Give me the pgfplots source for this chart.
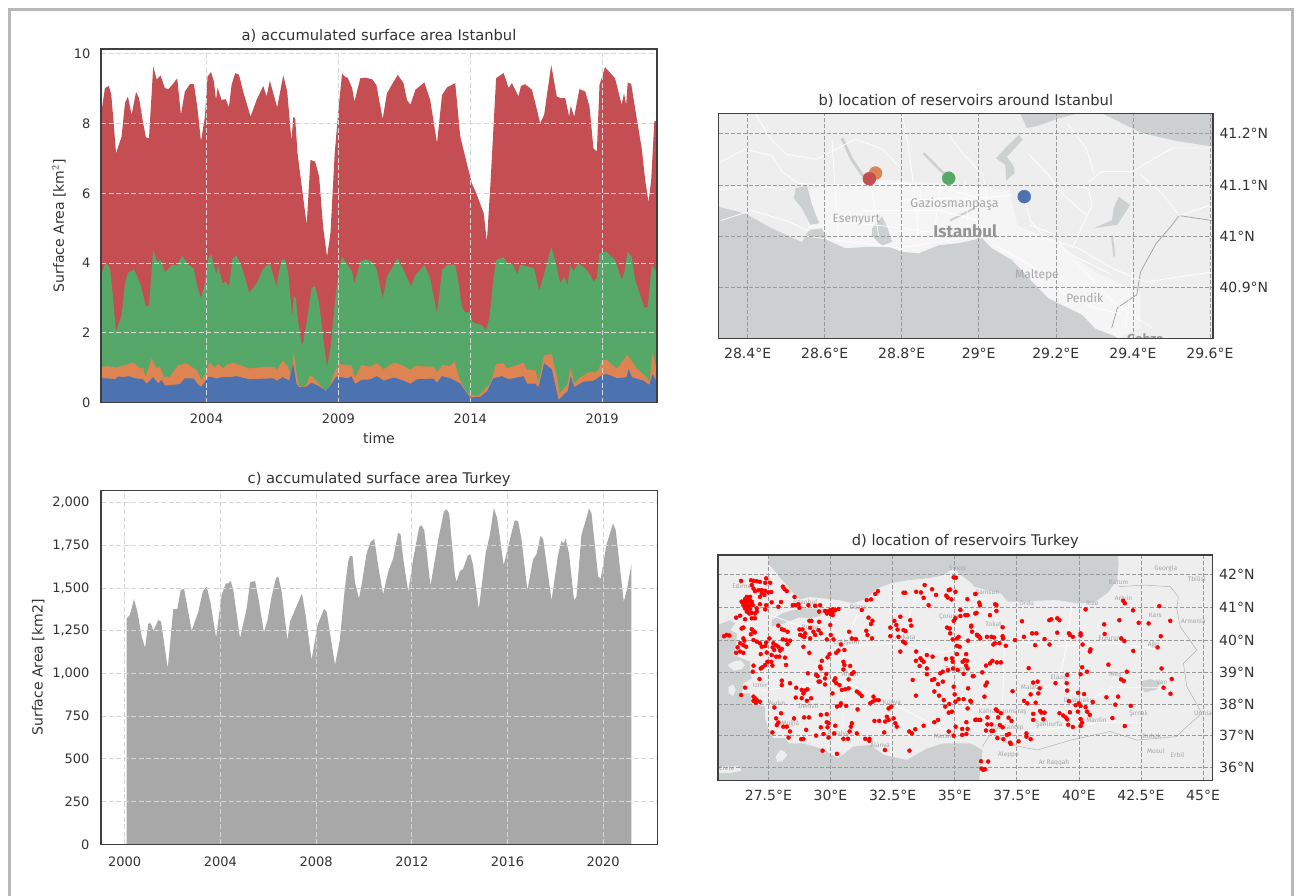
\documentclass[border=0pt]{standalone}
\usepackage{pgfplots}
\pgfplotsset{compat=1.18}
\usepackage{fontspec}
\setmainfont{DejaVu Sans}
\newfontfamily\mapfont{Fira Sans}
\definecolor{cblue}{HTML}{4C72B0}
\definecolor{corange}{HTML}{DD8452}
\definecolor{cgreen}{HTML}{55A868}
\definecolor{cred}{HTML}{C44E52}
\definecolor{txt}{HTML}{333333}
\definecolor{spine}{HTML}{3F3F3F}
\definecolor{sea}{HTML}{CDD0D1}
\definecolor{land}{HTML}{EEEEEE}
\definecolor{lbl}{HTML}{A6A6A6}
\tikzset{mlabel/.style={text=lbl,font=\mapfont\fontsize{#1}{#1}\selectfont,inner sep=0pt}}
\pgfplotsset{
  base/.style={scale only axis,anchor=south west,
    tick style={draw=none},major tick length=0pt,
    axis line style={draw=spine,line width=1.2pt},
    tick label style={font=\fontsize{13}{15}\selectfont,text=txt},
    label style={font=\fontsize{14}{16}\selectfont,text=txt},
    title style={font=\fontsize{14.7}{17}\selectfont,text=txt,yshift=-6pt},
    grid=major,clip=true},
  chart/.style={base,axis on top=true,
    grid style={color=black!16,line width=1.1pt,dash pattern=on 5pt off 2.5pt}},
  mapax/.style={base,axis on top=true,axis background/.style={fill=land},
    yticklabel pos=right,
    tick label style={font=\fontsize{14}{16}\selectfont,text=txt},
    yticklabel style={xshift=3pt},
    grid style={color=black!40,line width=0.6pt,dash pattern=on 4pt off 2pt}},
  overlayax/.style={scale only axis,anchor=south west,hide axis,clip=true},
  seapoly/.style={fill=sea,draw=none},
  road/.style={draw=white,line width=0.8pt,no markers,opacity=0.9},
  border/.style={draw=black!30,line width=0.5pt,no markers}
}
\begin{document}
\begin{tikzpicture}
\useasboundingbox (0,0) rectangle (1295pt,896pt);
\fill[white] (0,0) rectangle (1295pt,896pt);
\draw[color=black!28,line width=3pt] (9.5pt,0pt) -- (9.5pt,886.5pt) -- (1292.5pt,886.5pt) -- (1292.5pt,0pt);
% ---------- a
\begin{axis}[chart,at={(101pt,493.3pt)},width=556pt,height=353.7pt,
  xmin=2000.0,xmax=2021.08,ymin=0,ymax=10.14,
  xtick={2004,2009,2014,2019},xticklabels={2004,2009,2014,2019},
  ytick={0,2,4,6,8,10},yticklabels={0,2,4,6,8,10},
  xticklabel style={yshift=-8pt},yticklabel style={xshift=-7pt},
  ylabel={Surface Area [km$^{2}$]},xlabel={time},title={a) accumulated surface area Istanbul},
  ylabel style={at={(axis description cs:-0.0755,0.5)},anchor=center},
  xlabel style={at={(axis description cs:0.5,-0.1)},anchor=center},
  title style={at={(axis description cs:0.5,1.037)},anchor=center}]
\addplot[fill=cred,draw=none] coordinates {(2000.0,8.25)(2000.15,9.02)(2000.30,9.08)(2000.39,8.82)(2000.47,8.11)(2000.57,7.15)(2000.78,7.63)(2000.91,8.59)(2001.02,8.78)(2001.16,8.25)(2001.33,8.91)(2001.44,8.73)(2001.60,8.01)(2001.70,7.61)(2001.82,7.58)(2001.98,9.64)(2002.11,9.27)(2002.26,9.38)(2002.42,9.02)(2002.55,8.99)(2002.70,9.11)(2002.89,9.30)(2003.03,8.25)(2003.18,8.92)(2003.37,9.13)(2003.52,9.14)(2003.65,8.49)(2003.79,7.49)(2003.94,8.20)(2004.04,9.35)(2004.17,9.48)(2004.28,9.21)(2004.36,8.68)(2004.42,9.03)(2004.57,8.68)(2004.73,8.70)(2004.85,8.47)(2004.95,9.11)(2005.09,9.45)(2005.23,9.40)(2005.39,8.92)(2005.52,8.59)(2005.67,8.20)(2005.90,8.68)(2006.15,9.08)(2006.28,8.78)(2006.40,9.23)(2006.68,8.47)(2006.91,9.38)(2007.06,8.92)(2007.22,7.51)(2007.29,8.18)(2007.36,8.18)(2007.45,7.15)(2007.66,5.91)(2007.80,5.10)(2007.94,6.96)(2008.12,6.91)(2008.27,6.48)(2008.42,5.05)(2008.57,4.19)(2008.70,4.86)(2008.86,7.15)(2009.02,8.54)(2009.14,9.43)(2009.27,9.33)(2009.35,9.32)(2009.52,9.02)(2009.61,8.63)(2009.83,9.30)(2010.02,9.32)(2010.28,9.27)(2010.44,9.11)(2010.68,8.13)(2010.84,8.87)(2011.25,9.40)(2011.47,9.16)(2011.60,8.68)(2011.73,8.54)(2011.92,8.97)(2012.26,9.18)(2012.48,8.68)(2012.74,7.44)(2012.93,8.82)(2013.12,9.04)(2013.43,9.16)(2013.62,7.63)(2013.87,6.86)(2014.06,6.29)(2014.25,5.96)(2014.51,5.43)(2014.63,4.62)(2014.76,6.20)(2014.98,9.30)(2015.07,9.35)(2015.26,9.45)(2015.35,9.27)(2015.45,9.02)(2015.58,9.16)(2015.83,8.78)(2015.92,9.08)(2016.08,9.13)(2016.34,8.97)(2016.53,8.39)(2016.65,8.01)(2016.80,8.25)(2017.07,9.68)(2017.28,8.78)(2017.43,8.73)(2017.60,8.73)(2017.75,8.20)(2017.81,8.51)(2017.94,8.20)(2018.14,8.99)(2018.36,8.92)(2018.52,8.49)(2018.67,7.29)(2018.80,7.20)(2018.90,9.11)(2019.11,9.62)(2019.49,9.30)(2019.74,8.54)(2019.83,8.87)(2019.91,8.54)(2019.97,9.18)(2020.10,9.14)(2020.29,8.25)(2020.50,7.29)(2020.63,6.39)(2020.76,5.74)(2020.86,6.39)(2020.98,8.08)(2021.07,8.06)} \closedcycle;
\addplot[fill=cgreen,draw=none] coordinates {(2000.0,3.66)(2000.18,4.02)(2000.34,3.85)(2000.44,3.14)(2000.57,2.04)(2000.78,2.51)(2000.91,3.42)(2001.02,3.73)(2001.26,3.82)(2001.48,3.42)(2001.60,3.09)(2001.70,2.75)(2001.82,2.80)(2001.98,4.38)(2002.13,4.04)(2002.26,4.09)(2002.42,3.74)(2002.70,3.95)(2002.89,3.95)(2003.08,4.21)(2003.31,3.95)(2003.52,3.85)(2003.65,3.33)(2003.79,2.99)(2003.94,3.42)(2004.07,4.14)(2004.18,4.25)(2004.28,3.95)(2004.38,3.66)(2004.44,3.95)(2004.61,3.42)(2004.73,3.47)(2004.85,3.33)(2004.99,4.14)(2005.14,4.21)(2005.33,3.90)(2005.52,3.42)(2005.62,3.15)(2005.90,3.42)(2006.15,3.85)(2006.40,4.00)(2006.65,3.33)(2006.84,4.09)(2006.97,4.11)(2007.10,3.71)(2007.25,2.47)(2007.31,3.06)(2007.39,2.99)(2007.47,2.37)(2007.60,1.70)(2007.66,1.68)(2007.85,2.56)(2007.98,3.28)(2008.11,3.35)(2008.27,2.85)(2008.42,1.89)(2008.57,1.03)(2008.70,1.56)(2008.86,2.85)(2009.02,3.80)(2009.14,4.19)(2009.27,4.04)(2009.52,3.76)(2009.61,3.42)(2009.83,4.04)(2010.02,4.11)(2010.28,4.04)(2010.44,3.85)(2010.68,2.99)(2010.84,3.61)(2011.25,4.14)(2011.47,3.81)(2011.75,3.33)(2011.92,3.66)(2012.26,3.95)(2012.48,3.57)(2012.74,2.56)(2012.93,3.80)(2013.12,3.95)(2013.43,3.95)(2013.56,3.42)(2013.68,2.75)(2013.81,2.58)(2013.97,2.61)(2014.09,2.32)(2014.25,2.26)(2014.44,2.23)(2014.59,2.07)(2014.72,2.42)(2014.86,3.42)(2014.98,4.09)(2015.26,4.17)(2015.45,3.95)(2015.58,4.00)(2015.79,3.69)(2015.89,3.95)(2016.08,3.92)(2016.42,3.85)(2016.61,3.21)(2016.84,3.80)(2017.07,4.47)(2017.28,3.90)(2017.41,3.42)(2017.56,3.61)(2017.69,3.37)(2017.79,3.95)(2017.91,3.76)(2018.10,4.00)(2018.36,3.85)(2018.55,3.66)(2018.67,3.47)(2018.80,3.57)(2018.90,4.28)(2019.15,4.33)(2019.49,4.09)(2019.74,3.52)(2019.85,3.76)(2019.96,4.33)(2020.12,4.19)(2020.25,3.52)(2020.44,3.09)(2020.60,2.71)(2020.73,2.75)(2020.88,3.95)(2021.07,3.76)} \closedcycle;
\addplot[fill=corange,draw=none] coordinates {(2000.04,1.01)(2000.21,1.05)(2000.59,1.01)(2000.91,1.08)(2001.22,1.15)(2001.48,0.98)(2001.60,1.01)(2001.69,0.73)(2001.92,1.27)(2002.11,0.98)(2002.23,1.05)(2002.39,0.73)(2002.61,0.75)(2002.93,1.08)(2003.25,1.13)(2003.43,1.03)(2003.62,0.94)(2003.81,0.65)(2004.0,0.89)(2004.10,1.15)(2004.31,1.01)(2004.44,1.11)(2004.63,0.98)(2004.75,1.08)(2005.0,1.15)(2005.25,1.08)(2005.63,0.98)(2006.26,1.03)(2006.58,1.03)(2006.66,0.94)(2006.89,1.2)(2007.08,1.05)(2007.21,0.79)(2007.31,1.46)(2007.41,0.84)(2007.51,0.48)(2007.66,0.46)(2007.79,0.51)(2007.92,0.79)(2008.04,0.73)(2008.30,0.51)(2008.52,0.32)(2008.65,0.44)(2008.86,0.89)(2009.05,1.11)(2009.30,1.08)(2009.49,1.08)(2009.64,0.73)(2009.87,1.08)(2010.19,1.03)(2010.46,1.13)(2010.72,0.96)(2011.10,1.15)(2011.41,1.08)(2011.73,0.94)(2011.92,1.05)(2012.61,1.03)(2012.74,0.86)(2012.93,1.08)(2013.24,1.05)(2013.41,1.18)(2013.56,0.75)(2013.81,0.36)(2014.0,0.22)(2014.32,0.19)(2014.57,0.41)(2014.76,0.55)(2014.98,1.11)(2015.26,1.13)(2015.41,0.98)(2015.77,1.08)(2016.02,1.15)(2016.15,0.94)(2016.46,0.94)(2016.59,0.57)(2016.80,1.37)(2017.09,1.39)(2017.31,0.65)(2017.38,0.25)(2017.60,0.46)(2017.69,0.55)(2017.81,1.01)(2017.94,0.55)(2018.17,0.73)(2018.55,0.89)(2018.74,0.86)(2018.86,0.94)(2019.0,1.2)(2019.15,1.24)(2019.56,0.98)(2019.96,1.37)(2020.31,0.98)(2020.69,0.73)(2020.79,0.6)(2020.91,1.43)(2021.07,0.94)} \closedcycle;
\addplot[fill=cblue,draw=none] coordinates {(2000.04,0.70)(2000.21,0.70)(2000.53,0.67)(2000.66,0.75)(2000.85,0.73)(2001.04,0.76)(2001.29,0.70)(2001.60,0.67)(2001.73,0.54)(2001.98,0.73)(2002.17,0.55)(2002.30,0.65)(2002.42,0.49)(2002.74,0.51)(2003.0,0.54)(2003.18,0.70)(2003.50,0.70)(2003.69,0.51)(2003.81,0.46)(2004.0,0.67)(2004.10,0.75)(2004.38,0.69)(2004.57,0.73)(2004.88,0.73)(2005.13,0.76)(2005.63,0.67)(2006.52,0.70)(2006.66,0.63)(2006.89,0.73)(2007.14,0.63)(2007.28,1.13)(2007.41,0.55)(2007.51,0.44)(2007.79,0.46)(2007.98,0.57)(2008.30,0.46)(2008.52,0.33)(2008.67,0.46)(2008.92,0.75)(2009.11,0.73)(2009.37,0.70)(2009.49,0.76)(2009.64,0.54)(2009.87,0.65)(2010.21,0.67)(2010.46,0.76)(2010.72,0.63)(2011.10,0.72)(2011.41,0.65)(2011.73,0.54)(2011.98,0.67)(2012.61,0.69)(2012.74,0.57)(2012.93,0.76)(2013.24,0.70)(2013.62,0.55)(2013.87,0.27)(2014.0,0.15)(2014.38,0.17)(2014.63,0.32)(2014.88,0.70)(2015.20,0.76)(2015.45,0.67)(2016.02,0.76)(2016.15,0.55)(2016.46,0.55)(2016.59,0.44)(2016.80,1.13)(2017.09,0.96)(2017.35,0.08)(2017.60,0.27)(2017.69,0.32)(2017.81,0.75)(2017.94,0.44)(2018.29,0.60)(2018.67,0.63)(2019.0,0.79)(2019.18,0.82)(2019.56,0.70)(2019.93,0.73)(2020.0,0.96)(2020.13,0.73)(2020.57,0.63)(2020.79,0.51)(2020.91,0.82)(2021.07,0.60)} \closedcycle;
\end{axis}
% ---------- c
\begin{axis}[chart,at={(101pt,51.7pt)},width=556.3pt,height=353.6pt,
  xmin=1999.01,xmax=2022.26,ymin=0,ymax=2070,
  xtick={2000,2004,2008,2012,2016,2020},xticklabels={2000,2004,2008,2012,2016,2020},
  ytick={0,250,500,750,1000,1250,1500,1750,2000},yticklabels={0,250,500,750,{1,000},{1,250},{1,500},{1,750},{2,000}},
  xticklabel style={yshift=-9pt},yticklabel style={xshift=-8pt},
  ylabel={Surface Area [km2]},title={c) accumulated surface area Turkey},
  ylabel style={at={(axis description cs:-0.113,0.5)},anchor=center},
  title style={at={(axis description cs:0.5,1.033)},anchor=center}]
\addplot[fill=black!34,draw=none] coordinates {(2000.08,0)(2000.08,1323)(2000.22,1343)(2000.39,1436)(2000.53,1362)(2000.71,1216)(2000.85,1151)(2000.99,1294)(2001.09,1294)(2001.20,1251)(2001.41,1313)(2001.52,1304)(2001.80,1030)(2002.03,1376)(2002.20,1378)(2002.34,1489)(2002.48,1495)(2002.80,1251)(2003.08,1362)(2003.26,1479)(2003.43,1509)(2003.59,1411)(2003.82,1210)(2004.05,1460)(2004.23,1528)(2004.33,1528)(2004.43,1542)(2004.54,1489)(2004.82,1206)(2004.99,1313)(2005.10,1382)(2005.24,1534)(2005.45,1542)(2005.59,1439)(2005.82,1239)(2005.97,1313)(2006.14,1450)(2006.32,1557)(2006.42,1567)(2006.56,1479)(2006.80,1196)(2006.91,1303)(2007.12,1372)(2007.26,1420)(2007.41,1469)(2007.56,1342)(2007.81,1079)(2008.06,1284)(2008.33,1378)(2008.44,1362)(2008.79,1050)(2008.99,1195)(2009.20,1498)(2009.34,1654)(2009.41,1687)(2009.52,1687)(2009.62,1537)(2009.79,1439)(2009.90,1517)(2010.11,1702)(2010.27,1767)(2010.43,1790)(2010.59,1634)(2010.80,1463)(2011.01,1595)(2011.22,1673)(2011.43,1825)(2011.53,1814)(2011.64,1673)(2011.85,1478)(2012.06,1673)(2012.31,1858)(2012.40,1868)(2012.52,1839)(2012.78,1513)(2013.10,1780)(2013.34,1946)(2013.45,1962)(2013.56,1936)(2013.80,1576)(2013.87,1537)(2014.01,1599)(2014.14,1611)(2014.35,1693)(2014.45,1697)(2014.56,1634)(2014.80,1377)(2015.09,1708)(2015.26,1810)(2015.43,1970)(2015.57,1907)(2015.84,1634)(2016.09,1780)(2016.30,1897)(2016.44,1892)(2016.58,1790)(2016.83,1488)(2017.07,1669)(2017.21,1697)(2017.38,1806)(2017.49,1786)(2017.84,1429)(2018.11,1693)(2018.25,1775)(2018.35,1761)(2018.43,1790)(2018.57,1702)(2018.78,1429)(2018.88,1449)(2019.09,1810)(2019.23,1878)(2019.41,1966)(2019.51,1936)(2019.79,1566)(2019.90,1556)(2020.13,1751)(2020.41,1878)(2020.52,1839)(2020.86,1420)(2021.00,1498)(2021.18,1644)(2021.18,0)} \closedcycle;
\end{axis}
% ---------- b
\begin{axis}[mapax,at={(718.7pt,557.7pt)},width=494.3pt,height=225pt,
  xmin=28.325,xmax=29.608,ymin=40.80,ymax=41.24,
  xtick={28.4,28.6,28.8,29,29.2,29.4,29.6},xticklabels={28.4°E,28.6°E,28.8°E,29°E,29.2°E,29.4°E,29.6°E},
  ytick={40.9,41,41.1,41.2},yticklabels={40.9°N,41°N,41.1°N,41.2°N},
  xticklabel style={yshift=-6.5pt},
  title={b) location of reservoirs around Istanbul},
  title style={at={(axis description cs:0.5,1.055)},anchor=center}]
\addplot[fill=white,fill opacity=0.45,draw=none] coordinates {(28.55,41.09)(28.75,41.11)(28.95,41.10)(29.08,41.09)(29.1,41.02)(29.2,40.99)(29.3,40.93)(29.42,40.89)(29.42,40.82)(29.36,40.80)(29.30,40.80)(29.22,40.85)(29.14,40.90)(29.04,40.96)(28.9,40.96)(28.65,40.96)(28.56,40.98)} --cycle;
\addplot[seapoly] coordinates {(28.325,41.057)(28.394,41.044)(28.463,41.015)(28.541,40.988)(28.559,41.012)(28.593,41.015)(28.606,40.992)(28.654,40.976)(28.714,40.979)(28.766,40.979)(28.801,40.969)(28.844,40.966)(28.896,40.982)(28.948,40.986)(29.008,40.996)(29.034,40.976)(29.086,40.953)(29.138,40.911)(29.181,40.878)(29.216,40.865)(29.268,40.846)(29.302,40.819)(29.346,40.806)(29.363,40.80)(28.325,40.80)} --cycle;
\addplot[seapoly] coordinates {(29.108,41.24)(29.125,41.211)(29.155,41.216)(29.207,41.23)(29.259,41.24)} --cycle;
\addplot[seapoly] coordinates {(29.32,41.24)(29.424,41.201)(29.519,41.185)(29.608,41.175)(29.608,41.24)} --cycle;
\addplot[seapoly] coordinates {(29.104,41.198)(29.069,41.172)(29.045,41.152)(29.069,41.139)(29.071,41.108)(29.093,41.123)(29.091,41.136)(29.073,41.155)(29.114,41.188)} --cycle;
\addplot[seapoly] coordinates {(28.524,41.093)(28.554,41.099)(28.567,41.061)(28.586,41.025)(28.563,41.022)(28.541,41.054)(28.52,41.074)} --cycle;
\addplot[seapoly] coordinates {(28.723,41.015)(28.749,41.038)(28.762,41.018)(28.775,40.989)(28.749,40.981)(28.723,41.0)} --cycle;
\addplot[seapoly] coordinates {(29.363,41.077)(29.393,41.061)(29.376,41.041)(29.359,41.022)(29.298,41.015)(29.346,41.031)(29.35,41.054)} --cycle;
\addplot[draw=sea,line width=3pt,no markers] coordinates {(28.645,41.191)(28.671,41.149)(28.701,41.116)};
\addplot[draw=sea,line width=2.5pt,no markers] coordinates {(28.857,41.162)(28.896,41.132)(28.918,41.116)};
\addplot[draw=sea,line width=2pt,no markers] coordinates {(29.346,41.0)(29.352,40.96)};
\addplot[draw=sea,line width=2pt,no markers] coordinates {(28.925,41.03)(28.99,41.055)};
\addplot[draw=black!35,line width=0.8pt,no markers] coordinates {(29.608,41.03)(29.52,41.04)(29.50,41.02)(29.46,40.985)(29.42,40.93)(29.41,40.885)(29.36,40.86)(29.345,40.82)};
\addplot[road] coordinates {(28.325,41.143)(28.394,41.17)(28.463,41.157)(28.489,41.126)(28.532,41.103)(28.602,41.10)(28.714,41.10)(28.801,41.103)(28.913,41.093)(29.0,41.074)(29.086,41.08)};
\addplot[road] coordinates {(28.550,41.0)(28.654,40.99)(28.792,40.977)(28.913,40.99)(29.0,41.003)};
\addplot[road] coordinates {(29.034,40.985)(29.13,40.945)(29.225,40.886)(29.30,40.86)(29.372,40.847)};
\addplot[road] coordinates {(29.173,40.996)(29.259,40.976)(29.346,40.937)(29.432,40.91)(29.608,40.93)};
\addplot[road] coordinates {(29.13,41.022)(29.199,41.003)(29.225,40.97)(29.346,40.924)};
\addplot[road] coordinates {(29.285,41.106)(29.32,41.126)(29.398,41.126)(29.502,41.172)(29.608,41.172)};
\addplot[road] coordinates {(28.619,41.19)(28.628,41.08)(28.636,41.007)};
\addplot[road] coordinates {(28.801,41.24)(28.818,41.172)(28.827,41.12)(28.844,40.996)};
\addplot[road] coordinates {(28.965,41.107)(28.974,40.996)};
\addplot[road] coordinates {(29.117,41.08)(29.134,41.03)(29.173,40.996)};
\addplot[road] coordinates {(29.225,41.10)(29.285,41.093)(29.294,41.06)(29.242,40.976)};
\addplot[road] coordinates {(28.7,41.05)(28.9,41.05)(29.0,41.03)};
\addplot[road] coordinates {(28.6,41.03)(28.75,41.02)(28.95,41.0)};
\addplot[road] coordinates {(28.72,41.1)(28.74,41.0)};
\addplot[road] coordinates {(28.9,41.09)(28.88,40.99)};
\addplot[road] coordinates {(29.25,40.95)(29.35,40.87)(29.45,40.82)};
\addplot[road] coordinates {(29.4,40.93)(29.38,40.82)};
\addplot[road] coordinates {(28.80,41.07)(28.95,41.075)(29.05,41.06)};
\addplot[road] coordinates {(28.85,41.1)(28.84,41.0)};
\addplot[road] coordinates {(28.42,41.24)(28.46,41.19)(28.50,41.16)(28.58,41.15)(28.68,41.19)(28.75,41.17)(28.80,41.13)};
\addplot[road] coordinates {(28.92,41.20)(28.96,41.16)(29.01,41.12)(29.02,41.08)};
\addplot[road] coordinates {(29.13,41.16)(29.18,41.12)(29.22,41.08)(29.28,41.04)};
\addplot[road] coordinates {(29.23,41.22)(29.28,41.17)(29.30,41.12)};
\addplot[road] coordinates {(29.42,41.12)(29.48,41.08)(29.52,41.04)(29.60,41.06)};
\addplot[road] coordinates {(28.325,41.09)(28.42,41.10)(28.50,41.09)};
\addplot[road] coordinates {(28.33,41.03)(28.41,41.05)(28.50,41.03)(28.56,41.01)};
\node[mlabel=12] at (axis cs:28.682,41.033) {Esenyurt};
\node[mlabel=12.5] at (axis cs:28.937,41.062) {Gaziosmanpaşa};
\node[text=black!42,font=\mapfont\fontsize{17}{17}\selectfont\bfseries,inner sep=0pt] at (axis cs:28.965,41.009) {Istanbul};
\node[mlabel=12] at (axis cs:29.151,40.924) {Maltepe};
\node[mlabel=12] at (axis cs:29.275,40.879) {Pendik};
\begin{scope}
\clip (axis cs:29.3,40.80) rectangle (axis cs:29.55,40.85);
\node[text=black!42,font=\mapfont\fontsize{13}{13}\selectfont\bfseries,inner sep=0pt] at (axis cs:29.432,40.799) {Gebze};
\end{scope}
\end{axis}
\begin{axis}[overlayax,at={(718.7pt,557.7pt)},width=494.3pt,height=225pt,
  xmin=28.325,xmax=29.608,ymin=40.80,ymax=41.24]
\addplot[only marks,mark=*,mark size=6.5pt,color=cblue,mark options={draw=none}] coordinates {(29.118,41.077)};
\addplot[only marks,mark=*,mark size=6.5pt,color=corange,mark options={draw=none}] coordinates {(28.732,41.123)};
\addplot[only marks,mark=*,mark size=6.5pt,color=cgreen,mark options={draw=none}] coordinates {(28.922,41.113)};
\addplot[only marks,mark=*,mark size=6.5pt,color=cred,mark options={draw=none}] coordinates {(28.716,41.112)};
\end{axis}
% ---------- d
\begin{axis}[mapax,at={(718pt,115.3pt)},width=494.7pt,height=225.7pt,
  xmin=25.47,xmax=45.39,ymin=35.59,ymax=42.65,
  xtick={27.5,30,32.5,35,37.5,40,42.5,45},xticklabels={27.5°E,30°E,32.5°E,35°E,37.5°E,40°E,42.5°E,45°E},
  ytick={36,37,37.99,38.97,39.99,41,42.05},yticklabels={36°N,37°N,38°N,39°N,40°N,41°N,42°N},
  xticklabel style={yshift=-5.5pt},
  title={d) location of reservoirs Turkey},
  title style={at={(axis description cs:0.5,1.058)},anchor=center}]
\addplot[seapoly] coordinates {(27.54,42.65)(27.50,42.39)(27.77,42.13)(28.17,41.76)(28.51,41.45)(28.78,41.26)(29.18,41.34)(29.72,41.29)(30.32,41.24)(30.93,41.14)(31.46,41.29)(31.87,41.60)(32.41,41.76)(33.08,41.86)(33.88,41.92)(34.56,42.02)(34.96,42.26)(35.16,42.07)(35.63,41.81)(35.79,41.66)(36.32,41.55)(36.86,41.45)(37.13,41.19)(37.66,41.19)(38.33,41.22)(39.13,41.24)(39.93,41.14)(40.60,41.16)(41.14,41.45)(41.54,41.86)(41.60,42.39)(41.57,42.65)} --cycle;
\addplot[seapoly] coordinates {(27.63,40.61)(28.04,40.82)(28.51,40.93)(28.91,40.98)(29.45,40.98)(29.78,40.93)(29.58,40.74)(29.18,40.67)(28.71,40.70)(28.31,40.56)(27.90,40.46)(27.63,40.41)} --cycle;
\addplot[seapoly] coordinates {(25.47,40.46)(25.96,40.61)(26.16,40.51)(25.96,40.30)(26.23,40.20)(26.20,39.83)(26.12,39.52)(26.76,39.31)(26.76,39.05)(26.83,38.79)(26.49,38.64)(26.43,38.32)(26.76,38.32)(26.83,38.01)(27.37,37.91)(27.37,37.54)(27.50,37.18)(27.70,36.92)(28.17,36.92)(28.31,36.76)(28.91,36.76)(29.59,36.60)(30.32,36.29)(30.93,36.66)(31.60,36.71)(32.14,36.40)(33.08,36.24)(33.89,36.60)(34.56,36.76)(35.23,36.76)(35.63,36.76)(36.12,36.55)(36.06,36.14)(35.99,35.59)(25.47,35.59)} --cycle;
\addplot[seapoly] coordinates {(42.47,38.69)(42.87,38.77)(43.30,38.66)(43.14,38.45)(42.67,38.35)(42.54,38.48)} --cycle;
\addplot[fill=land,draw=none] coordinates {(27.80,36.35)(27.98,36.55)(28.15,36.50)(28.25,36.38)(28.05,36.20)(27.85,36.18)} --cycle;
\addplot[fill=land,draw=none] coordinates {(25.47,36.00)(25.9,36.06)(26.30,36.03)(26.42,35.90)(26.0,35.84)(25.47,35.82)} --cycle;
\addplot[fill=land,draw=none] coordinates {(25.85,39.20)(26.10,39.32)(26.38,39.36)(26.55,39.20)(26.42,39.08)(26.10,39.03)} --cycle;
\addplot[fill=land,draw=none] coordinates {(25.90,38.52)(26.08,38.60)(26.18,38.42)(26.08,38.24)(25.90,38.32)} --cycle;
\addplot[border] coordinates {(41.60,41.66)(42.61,41.71)(43.68,41.66)(44.01,41.34)(43.94,40.98)(44.08,40.41)(44.75,39.68)(44.21,39.26)(44.35,38.53)(44.95,37.70)(44.21,37.18)(43.94,36.97)(42.34,36.86)(41.27,37.13)(39.67,36.86)(38.33,36.55)(37.26,36.71)(36.46,37.07)(36.12,36.66)};
\addplot[road] coordinates {(27.5,40.8)(29.2,40.3)(30.5,39.8)(32.8,39.9)(34.5,39.6)(36.9,40.0)(39.2,39.8)(41.3,39.9)(43.2,39.7)};
\addplot[road] coordinates {(27.2,38.4)(29.0,38.6)(30.5,38.7)(32.5,38.0)(34.5,37.2)(37.2,37.1)(38.8,37.2)(40.7,37.4)(42.4,37.4)};
\addplot[road] coordinates {(30.5,37.0)(30.5,38.7)(30.5,39.8)(31.2,41.0)};
\addplot[road] coordinates {(32.8,39.9)(33.4,41.3)(36.3,41.3)};
\addplot[road] coordinates {(36.9,37.2)(37.0,39.8)(36.5,41.0)};
\addplot[road] coordinates {(38.3,38.4)(39.2,38.7)(40.2,38.0)(41.3,38.5)(43.3,38.5)};
\addplot[road] coordinates {(39.2,38.7)(39.5,39.8)(39.7,41.0)};
\node[mlabel=6.5] at (axis cs:43.50,42.21) {Georgia};
\node[mlabel=6.5] at (axis cs:44.75,41.90) {Tbilisi};
\node[mlabel=6.5] at (axis cs:41.60,41.81) {Batum};
\node[mlabel=6.5] at (axis cs:41.80,41.32) {Artvin};
\node[mlabel=6.5] at (axis cs:43.08,40.75) {Kars};
\node[mlabel=6.5] at (axis cs:44.61,40.59) {Armenia};
\node[mlabel=6.5] at (axis cs:40.54,41.16) {Rize};
\node[mlabel=6.5] at (axis cs:37.90,41.14) {Ordu};
\node[mlabel=6.5] at (axis cs:36.32,41.47) {Samsun};
\node[mlabel=6.5] at (axis cs:36.56,40.48) {Tokat};
\node[mlabel=6.5] at (axis cs:41.27,40.04) {Erzurum};
\node[mlabel=6.5] at (axis cs:43.01,39.85) {Ağrı};
\node[mlabel=6.5] at (axis cs:43.34,38.67) {Van};
\node[mlabel=6.5] at (axis cs:41.47,38.88) {Muş};
\node[mlabel=6.5] at (axis cs:39.20,38.81) {Elazığ};
\node[mlabel=6.5] at (axis cs:38.13,38.50) {Malatya};
\node[mlabel=6.5] at (axis cs:40.0,38.08) {Diyarbakır};
\node[mlabel=6.5] at (axis cs:40.71,37.49) {Mardin};
\node[mlabel=6.5] at (axis cs:42.41,37.68) {Şırnak};
\node[mlabel=6.5] at (axis cs:36.93,37.73) {Kahramanmaraş};
\node[mlabel=6.5] at (axis cs:38.80,37.33) {Şanlıurfa};
\node[mlabel=6.5] at (axis cs:37.19,37.26) {Gaziantep};
\node[mlabel=6.5] at (axis cs:37.17,36.40) {Aleppo};
\node[mlabel=6.5] at (axis cs:39.0,36.16) {Ar Raqqah};
\node[mlabel=6.5] at (axis cs:43.10,36.53) {Mosul};
\node[mlabel=6.5] at (axis cs:42.94,36.99) {Duhok};
\node[mlabel=6.5] at (axis cs:43.97,36.40) {Erbil};
\node[mlabel=6.5] at (axis cs:45.0,37.70) {Urmia};
\node[mlabel=6.5] at (axis cs:35.12,42.21) {Sinop};
\node[mlabel=6.5] at (axis cs:26.43,41.69) {Edirne};
\node[mlabel=6.5] at (axis cs:28.98,41.19) {Istanbul};
\node[mlabel=6.5] at (axis cs:31.13,41.01) {Düzce};
\node[mlabel=6.5] at (axis cs:34.76,40.70) {Çorum};
\node[mlabel=6.5] at (axis cs:33.01,40.07) {Ankara};
\node[mlabel=6.5] at (axis cs:30.66,39.92) {Eskişehir};
\node[mlabel=7] at (axis cs:35.03,39.05) {Turkey};
\node[mlabel=6.5] at (axis cs:30.79,38.90) {Afyon};
\node[mlabel=6.5] at (axis cs:27.17,38.58) {Izmir};
\node[mlabel=6.5] at (axis cs:27.84,38.01) {Aydın};
\node[mlabel=6.5] at (axis cs:29.11,37.94) {Denizli};
\node[mlabel=6.5] at (axis cs:32.47,38.01) {Konya};
\node[mlabel=6.5] at (axis cs:28.38,37.39) {Muğla};
\node[mlabel=6.5] at (axis cs:30.32,37.07) {Antalya};
\node[mlabel=6.5] at (axis cs:34.56,36.99) {Mersin};
\node[mlabel=6.5] at (axis cs:32.0,36.69) {Alanya};
\node[mlabel=6.5] at (axis cs:29.18,40.39) {Bursa};
\node[mlabel=6.5] at (axis cs:25.82,35.98) {Crete};
\end{axis}
\begin{axis}[overlayax,at={(718pt,115.3pt)},width=494.7pt,height=225.7pt,
  xmin=25.47,xmax=45.39,ymin=35.59,ymax=42.65]
\addplot[only marks,mark=*,mark size=2pt,color=red,mark options={draw=none}] coordinates {
(26.40,41.84)(26.80,41.86)(26.90,41.84)(27.03,41.83)(27.16,41.81)(27.41,41.92)(27.37,41.78)(27.57,41.78)(26.83,41.71)(26.90,41.60)(26.96,41.52)(27.10,41.55)(27.23,41.55)(27.37,41.53)(27.50,41.48)(27.61,41.49)(27.23,41.45)(27.34,41.40)(27.16,41.34)(28.08,41.66)(28.15,41.58)(28.24,41.52)(28.55,41.34)(27.63,41.17)(28.01,41.18)(27.90,41.03)(27.41,41.08)(27.16,41.11)(26.63,41.34)(26.56,41.27)(26.69,41.29)(26.76,41.34)(26.42,41.19)(26.49,41.19)(26.56,41.19)(26.63,41.19)(26.69,41.19)(26.76,41.22)(26.83,41.19)(26.49,41.08)(26.59,41.08)(26.67,41.08)(26.76,41.08)(26.87,41.08)(26.65,40.98)(26.76,40.96)(26.56,40.98)(27.03,40.98)(27.03,40.88)(26.96,40.82)(26.63,40.88)(26.73,40.82)(26.83,40.84)(26.36,40.75)(26.20,40.69)(26.56,40.64)(26.83,40.67)(26.96,40.67)(27.37,40.95)
(28.48,41.08)(28.58,41.08)(28.71,41.11)(28.75,41.00)(29.11,41.08)(29.38,41.06)(29.58,41.08)(29.54,40.88)(29.78,40.90)(29.88,40.88)(29.99,40.93)(30.09,40.95)(30.19,40.93)(30.32,40.96)(30.12,40.88)(30.01,40.80)(30.09,40.77)(29.85,40.82)(31.26,40.93)(31.46,41.24)(31.63,41.26)(31.80,41.43)(31.91,41.52)(32.94,41.47)(33.01,41.47)(33.45,41.50)(33.64,41.48)(33.75,41.31)(33.95,41.08)(33.79,41.71)(34.09,41.58)(34.25,41.40)(34.76,41.55)(34.82,41.57)(35.03,41.50)(34.66,41.38)(34.72,41.32)(34.87,41.26)(34.96,41.95)(35.05,41.94)(35.51,41.27)(35.83,41.43)
(29.15,40.59)(29.23,40.59)(29.54,40.56)(29.18,40.37)(31.53,40.69)(31.69,40.59)(31.63,40.49)(31.44,40.28)(31.49,40.15)(31.67,40.04)(30.75,40.25)(30.86,40.04)(31.02,40.02)(29.99,40.46)(30.01,40.15)(30.12,40.01)(29.85,40.01)(32.57,40.59)(32.81,40.72)(32.65,40.46)(33.21,40.61)(33.25,40.44)(32.41,40.38)(32.70,40.32)(32.94,40.30)(33.02,40.27)(32.41,40.11)(32.74,40.09)(32.92,39.94)(33.01,39.89)(32.81,39.63)(27.90,40.44)(28.04,40.33)(28.13,40.30)(28.27,40.25)(28.75,40.32)(28.87,40.32)(28.78,40.15)(28.88,40.11)(28.98,40.20)(28.95,40.09)(29.31,40.25)(29.38,40.15)(29.52,40.30)(29.61,40.20)(29.18,40.04)(28.91,39.78)(29.15,39.59)
(25.71,40.11)(25.82,40.15)(25.93,40.13)(26.42,40.35)(26.49,40.38)(26.83,40.33)(26.90,40.27)(26.96,40.23)(26.79,40.17)(26.49,40.04)(26.53,39.97)(26.36,39.89)(26.49,39.83)(26.26,39.76)(26.20,39.59)(26.36,39.63)(26.49,39.59)(26.60,39.78)(26.90,39.99)(27.03,39.94)(27.16,39.89)(27.23,39.78)(27.41,39.91)(27.37,39.80)(27.54,40.04)(27.70,39.89)(27.80,39.83)(27.90,39.78)(27.67,39.76)(27.73,39.68)(27.97,39.66)(28.04,39.71)(27.43,39.60)(27.19,39.55)(27.63,39.52)(27.81,39.47)(27.94,39.47)(28.17,39.44)(27.61,39.31)(27.46,39.31)(27.66,39.19)(28.21,39.21)(27.37,39.21)(27.26,39.14)(27.19,39.10)(26.90,39.19)(26.87,39.00)(28.08,40.01)(28.21,39.99)(28.37,39.97)(28.27,39.86)
(29.65,39.34)(29.88,39.45)(29.96,39.55)(30.23,39.59)(30.32,39.66)(30.42,39.85)(30.56,39.68)(29.58,39.16)(29.61,39.10)(30.52,39.31)(30.56,39.21)(30.52,39.07)(30.79,39.18)(30.93,38.98)(30.86,38.93)(30.73,38.76)(29.09,38.95)(29.42,38.90)(29.48,38.86)(29.83,38.93)(29.78,38.79)(29.52,38.69)(29.58,38.69)(29.78,38.60)(30.19,38.79)(30.15,38.72)(30.23,38.64)(30.36,38.58)(30.46,38.43)(30.59,38.45)(30.08,38.32)(30.73,38.48)(28.04,38.72)(28.04,38.58)(28.37,38.64)(28.62,38.50)(28.84,38.43)(28.98,38.41)(29.07,38.45)(28.91,38.32)(28.60,38.19)(28.84,38.17)(29.05,38.09)(29.22,38.17)(27.14,38.77)(26.56,38.50)(26.40,38.27)(26.90,38.22)(26.96,38.17)(27.03,38.11)(27.16,38.06)(26.90,38.09)(26.99,38.03)
(31.06,38.38)(31.16,38.32)(31.26,38.24)(31.09,37.82)(30.26,37.91)(30.42,38.01)(30.39,37.94)(30.63,37.93)(31.60,38.01)(31.69,38.06)(31.80,38.11)(31.73,38.22)(31.94,38.11)(32.34,37.85)(32.45,37.91)(32.27,37.59)(32.34,37.49)(32.54,37.54)(32.61,37.39)(32.20,37.44)(32.67,37.28)(31.77,37.46)(31.96,37.46)(32.16,37.10)(33.17,37.13)(33.28,37.07)(33.41,37.20)(33.75,37.31)(34.18,37.42)(34.33,37.49)
(27.74,37.88)(28.01,37.70)(27.81,37.54)(27.90,37.41)(27.84,37.33)(28.10,37.28)(28.24,37.28)(28.37,37.13)(27.66,37.10)(28.31,36.94)(28.53,37.54)(28.94,37.57)(29.13,37.57)(29.61,37.65)(29.85,37.67)(29.85,37.42)(29.92,37.39)(29.61,37.26)(29.88,37.26)(30.19,37.31)(29.02,37.18)(28.82,36.89)(28.91,36.90)(29.42,37.00)(29.72,37.05)(29.92,36.94)(30.15,37.07)(30.52,36.90)(30.70,36.90)(30.86,37.39)(30.82,37.28)(30.77,37.13)(31.06,37.07)(31.40,36.90)(31.57,36.90)(31.56,36.84)(29.68,36.53)(30.26,36.43)(32.19,36.55)(33.18,36.53)
(33.45,39.63)(33.44,39.34)(33.62,39.42)(33.68,39.36)(33.75,39.31)(33.59,39.18)(33.88,39.52)(34.11,39.47)(33.88,39.10)(33.88,38.92)(34.09,38.74)(34.18,38.77)(34.42,38.95)(34.52,39.00)(34.33,38.61)(34.52,38.69)(34.73,39.05)(33.31,38.74)(33.44,38.25)(34.18,38.38)(34.37,38.25)(34.56,38.11)(34.62,37.91)(34.78,37.99)(35.03,38.06)(35.16,38.14)(35.36,38.14)(35.63,38.09)(35.52,37.85)(34.96,38.53)(35.00,38.29)(34.89,37.75)(34.76,37.72)(35.04,37.28)(34.76,37.13)(34.96,37.00)(35.30,37.21)(35.52,37.21)(35.30,37.02)(35.47,37.05)(35.47,37.42)(35.83,37.49)(35.97,37.49)(35.54,38.48)(35.73,38.86)
(34.69,40.38)(34.80,40.35)(34.82,40.20)(35.16,40.09)(35.09,40.04)(34.92,40.01)(35.09,39.81)(35.20,39.78)(35.54,39.97)(34.89,39.42)(35.09,39.55)(35.46,39.55)(34.65,39.40)(34.92,39.31)(34.93,39.10)(35.12,39.05)(35.32,39.31)(35.40,39.36)(35.50,39.34)(35.46,39.19)(35.52,39.10)(35.36,38.93)(35.23,40.93)(35.03,40.67)(34.96,40.59)(35.43,40.77)(35.52,40.77)(35.23,40.74)(35.83,40.82)(35.67,40.44)(35.90,40.15)(36.00,40.09)
(35.84,41.43)(35.99,41.16)(36.02,41.08)(35.88,40.84)(36.42,40.77)(36.63,41.11)(36.68,41.08)(36.68,40.90)(35.66,40.41)(35.70,40.25)(35.90,40.15)(35.95,40.11)(36.03,40.04)(36.30,40.09)(36.48,40.09)(36.59,40.07)(36.93,40.39)(36.93,40.11)(36.95,40.04)(36.56,39.85)(36.62,39.89)(36.80,39.89)(37.06,39.81)(37.43,39.99)(37.79,40.09)(37.71,40.58)(38.12,40.20)(38.29,40.20)(38.24,39.83)(38.62,40.02)(38.82,39.85)(38.81,40.61)(38.89,40.64)(39.13,40.67)(39.22,40.61)(39.13,40.22)(39.60,40.20)(39.64,40.15)(39.76,40.09)(40.07,40.20)(40.07,40.13)(40.27,40.95)(40.15,39.85)(40.47,39.70)(40.44,39.63)(41.02,40.48)(41.04,40.18)(41.63,40.61)(41.78,41.22)(41.85,41.14)(42.18,40.92)(42.41,40.53)(42.81,40.51)(43.24,41.05)(43.68,40.59)(43.30,40.11)(43.17,39.76)(41.71,40.04)(41.83,39.96)(42.19,39.65)(41.19,39.22)(41.93,39.0)(41.70,38.76)(41.81,38.71)(43.33,39.10)(43.74,38.77)(43.41,38.50)(43.69,38.31)
(35.76,38.86)(36.11,38.98)(36.26,39.19)(36.42,39.26)(36.52,39.34)(36.70,39.29)(36.86,39.29)(36.30,38.66)(36.24,38.57)(36.20,38.22)(35.66,38.06)(37.98,39.11)(40.13,39.14)(40.33,39.0)(40.07,38.92)(39.53,38.90)(38.16,38.66)(38.34,38.69)(38.42,38.48)(38.37,38.32)(38.06,38.29)(37.33,38.39)(39.06,38.64)(39.51,38.64)(39.53,38.41)(39.97,38.34)(40.21,38.30)(39.60,38.08)(37.79,38.09)(37.93,38.01)(38.26,38.03)(40.56,38.05)(41.11,38.20)(41.58,38.22)(41.47,37.97)(42.09,37.93)(39.87,37.95)(40.0,38.01)(40.07,37.93)(39.96,37.75)(40.27,37.89)(40.33,37.75)(40.44,37.65)(36.66,37.82)(36.72,37.77)(36.86,37.70)(38.16,37.68)(38.44,37.77)(38.49,37.72)(38.62,37.72)(39.22,37.70)(39.64,37.73)(39.37,37.63)(39.47,37.57)(39.53,37.51)(38.16,37.49)(38.57,37.51)(35.86,37.50)(36.03,37.49)(36.32,37.57)(36.75,37.57)(37.17,37.56)(37.29,37.46)(40.07,37.52)(40.13,37.41)(40.07,37.30)(41.35,37.55)(41.85,37.30)(39.57,37.34)(39.76,37.27)(36.32,37.35)(36.48,37.35)(36.82,37.33)(36.93,37.26)(36.26,37.16)(36.48,37.15)(36.55,37.15)(37.19,37.05)(37.10,37.02)(37.89,37.07)(37.89,36.97)(38.06,36.89)(36.72,36.92)(36.96,36.89)(37.23,36.78)(37.26,36.74)(37.57,36.82)(36.06,36.20)(36.35,36.19)(36.08,35.97)(36.15,35.93)(36.22,35.95)
};
\end{axis}
\end{tikzpicture}
\end{document}
